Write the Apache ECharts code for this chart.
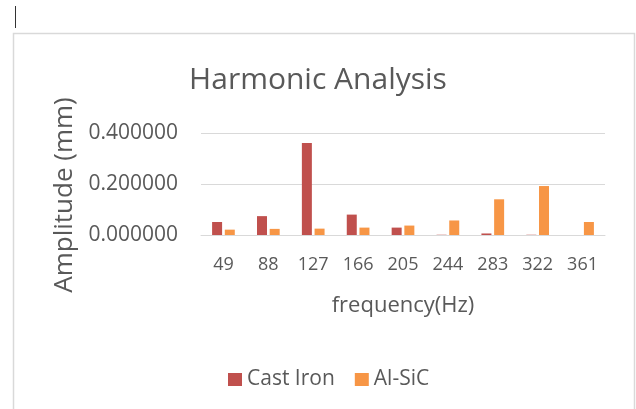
<!DOCTYPE html>
<html>
<head>
<meta charset="utf-8">
<script src="https://cdn.jsdelivr.net/npm/echarts@6/dist/echarts.min.js"></script>
<style>
html,body{margin:0;padding:0;background:#fff;}
#chart{width:636px;height:409px;}
</style>
</head>
<body>
<div id="chart"></div>
<script>
const categories = ['49', '88', '127', '166', '205', '244', '283', '322', '361'];
const castIron = [0.051, 0.074, 0.361, 0.080, 0.029, 0.001, 0.006, 0.001, 0.000];
const alSiC = [0.021, 0.024, 0.025, 0.029, 0.037, 0.057, 0.140, 0.192, 0.051];
const seriesNames = ['Cast Iron', 'Al-SiC'];

const FONT = '"Open Sans", sans-serif';
const TXT = '#595959';

const chart = echarts.init(document.getElementById('chart'), null, {renderer: 'canvas'});
chart.setOption({
  animation: false,
  backgroundColor: '#fff',
  title: {
    text: 'Harmonic Analysis',
    left: 'center',
    top: 60,
    textStyle: {fontFamily: FONT, fontSize: 30, fontWeight: 'normal', color: TXT}
  },
  graphic: [
    {type: 'rect', shape: {x: 13.5, y: 33.5, width: 621, height: 400},
     style: {fill: 'none', stroke: '#d9d9d9', lineWidth: 1.5}, silent: true},
    {type: 'line', shape: {x1: 15.5, y1: 6, x2: 15.5, y2: 28},
     style: {stroke: '#333', lineWidth: 1}, silent: true}
  ],
  legend: {
    data: seriesNames,
    left: 223,
    top: 364,
    itemWidth: 14,
    itemHeight: 13,
    itemGap: 20,
    icon: 'rect',
    textStyle: {fontFamily: FONT, fontSize: 21, color: TXT}
  },
  grid: {left: 201, right: 31, top: 133, bottom: 174, containLabel: false},
  xAxis: {
    type: 'category',
    data: categories,
    name: 'frequency(Hz)',
    nameLocation: 'middle',
    nameGap: 60,
    nameTextStyle: {fontFamily: FONT, fontSize: 22, color: TXT},
    axisLine: {show: true, lineStyle: {color: '#d9d9d9', width: 1}},
    axisTick: {show: false},
    axisLabel: {fontFamily: FONT, fontSize: 18, color: TXT, margin: 21}
  },
  yAxis: {
    type: 'value',
    min: 0, max: 0.4, interval: 0.2,
    name: 'Amplitude (mm)',
    nameLocation: 'middle',
    nameGap: 121,
    nameRotate: 90,
    nameTextStyle: {fontFamily: FONT, fontSize: 26, color: TXT, padding: [0, 22, 0, 0]},
    axisLine: {show: false},
    axisTick: {show: false},
    splitLine: {lineStyle: {color: '#d9d9d9', width: 1}},
    axisLabel: {fontFamily: FONT, fontSize: 21, color: TXT, margin: 23,
      formatter: v => v.toFixed(6)}
  },
  series: [
    {name: seriesNames[0], type: 'bar', data: castIron, barWidth: 10, barGap: '27%',
     itemStyle: {color: '#C0504D'}},
    {name: seriesNames[1], type: 'bar', data: alSiC, barWidth: 10,
     itemStyle: {color: '#F79646'}}
  ]
});
</script>
</body>
</html>
